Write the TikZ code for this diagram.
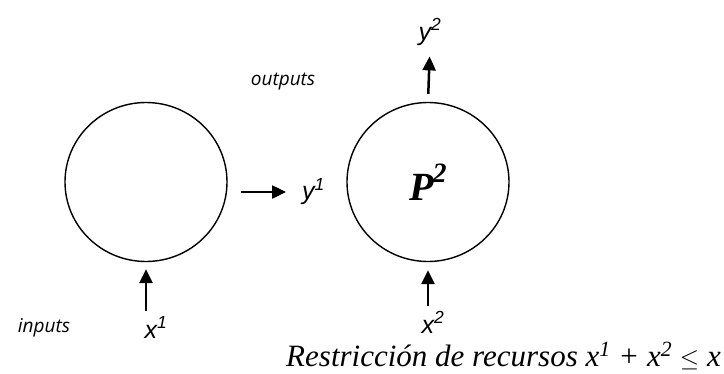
\documentclass[tikz,border=0pt]{standalone}
\usepackage{fontspec}
\setmainfont{Liberation Serif}
\setsansfont{Liberation Sans}
\newfontfamily\labelfont{Open Sans}
\usepackage{tikz}
\usetikzlibrary{shapes.geometric, arrows.meta, positioning}

\begin{document}
\begin{tikzpicture}[
  x=1pt, y=-1pt,
  proc/.style={ellipse, draw=black, line width=1.4pt,
               minimum width=162pt, minimum height=159pt, inner sep=0pt},
  var/.style={font=\fontsize{25}{28}\selectfont\sffamily\itshape, inner sep=0pt},
  tag/.style={font=\fontsize{19}{22}\selectfont\labelfont\itshape, inner sep=0pt},
  arr/.style={-{Triangle[length=14pt,width=13pt]}, line width=2.5pt},
]
\useasboundingbox (0,0) rectangle (724,373);

%% Nodes
\node[proc] (p1) at (146,182) {};
\node[proc] (p2) at (428,182)
  {\fontsize{40}{44}\selectfont\bfseries\itshape P\kern-1pt\raisebox{0.45em}{\fontsize{28}{30}\selectfont 2}};

\node[var, anchor=west] (y1) at (302,192) {y\textsuperscript{1}};
\node[var, anchor=base] (y2) at (430,40) {y\textsuperscript{2}};
\node[var, anchor=base] (x1) at (156,338) {x\textsuperscript{1}};
\node[var, anchor=base] (x2) at (433,333) {x\textsuperscript{2}};

\node[tag] (in)  at (44,328) {inputs};
\node[tag] (out) at (283,82) {outputs};

\node[anchor=base east, inner sep=0pt,
      font=\fontsize{31}{34}\selectfont\itshape] (res) at (721,366)
  {Restricción de recursos x\textsuperscript{1} + x\textsuperscript{2} $\leq$ x};

%% Edges
\draw[arr, shorten <=13pt, shorten >=16pt] (p1.east |- y1) -- (y1.west);
\draw[arr, shorten <=8pt, shorten >=11pt] (p2.north) -- (y2.south);
\draw[arr, shorten <=6pt, shorten >=7pt] (x1.north -| p1.south) -- (p1.south);
\draw[arr, shorten <=6pt, shorten >=8pt] (x2.north -| p2.south) -- (p2.south);
\end{tikzpicture}
\end{document}
